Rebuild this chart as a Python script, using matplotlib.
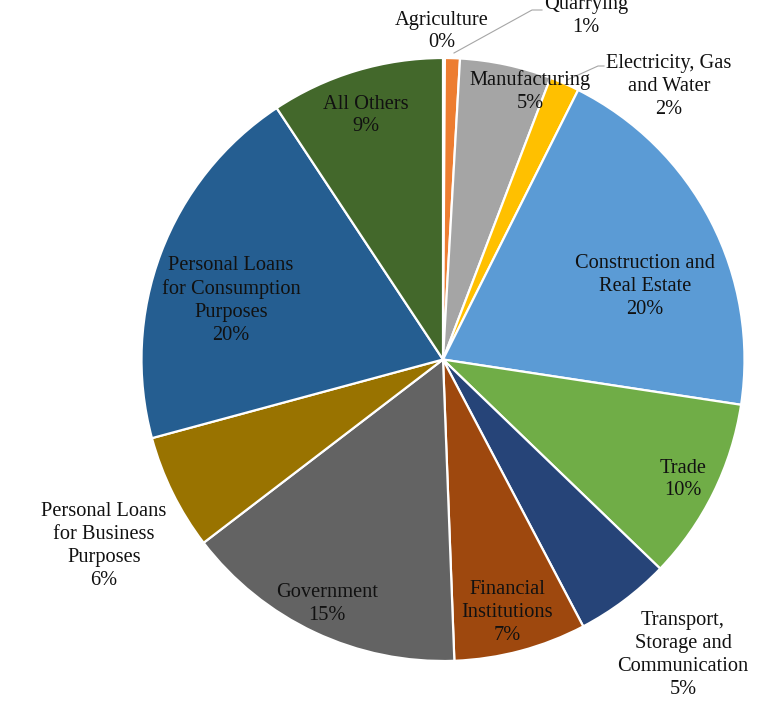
import matplotlib
matplotlib.use("Agg")
import matplotlib.pyplot as plt

# Loan portfolio by sector, share of total (%)
sectors = [
    "Agriculture",
    "Quarrying",
    "Manufacturing",
    "Electricity, Gas\nand Water",
    "Construction and\nReal Estate",
    "Trade",
    "Transport,\nStorage and\nCommunication",
    "Financial\nInstitutions",
    "Government",
    "Personal Loans\nfor Business\nPurposes",
    "Personal Loans\nfor Consumption\nPurposes",
    "All Others",
]
shares = [0.1, 0.8, 4.9, 1.6, 20.0, 9.8, 5.1, 7.1, 15.2, 6.2, 19.9, 9.3]
colors = [
    "#4472C4", "#ED7D31", "#A5A5A5", "#FFC000", "#5B9BD5", "#70AD47",
    "#264478", "#9E480E", "#636363", "#997300", "#255E91", "#43682B",
]

W, H = 758, 709
fig = plt.figure(figsize=(W / 100, H / 100), dpi=100)
ax = fig.add_axes([0, 0, 1, 1])


def y_up(y):
    """Convert a top-down pixel row into the axes' bottom-up coordinate."""
    return H - y


cx, cy, radius = 443, y_up(359.5), 301.5
ax.pie(
    shares,
    colors=colors,
    startangle=90,
    counterclock=False,
    center=(cx, cy),
    radius=radius,
    wedgeprops=dict(edgecolor="white", linewidth=1.6),
    frame=True,
)
ax.set_xlim(0, W)
ax.set_ylim(0, H)
ax.set_aspect("equal")
ax.axis("off")

# Label anchor points (text block centres)
label_pos = [
    (442, 31.5), (586, 16), (530, 91.5), (669, 86.5), (645, 286.5),
    (683, 479.5), (683, 655), (507, 612.5), (327, 604), (104, 546),
    (231, 300.5), (366, 115.5),
]

font = dict(family="Liberation Serif", size=14.7, color="#111111")
for name, val, (x, y) in zip(sectors, shares, label_pos):
    ax.text(x, y_up(y), f"{name}\n{round(val)}%", ha="center", va="center",
            multialignment="center", linespacing=1.28, **font)

# Leader lines for the two thin slices on top
leader = dict(color="#A6A6A6", linewidth=0.8)
ax.plot([454, 532, 542], [y_up(53), y_up(10), y_up(10)], **leader)
ax.plot([567, 598, 604], [y_up(80), y_up(66), y_up(66)], **leader)

fig.savefig("out.png", dpi=100, facecolor="white")
